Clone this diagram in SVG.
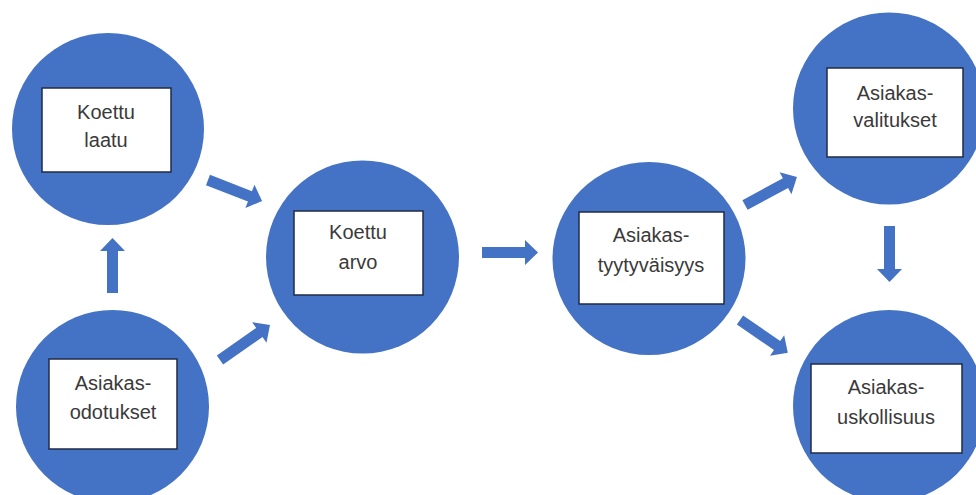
<svg xmlns="http://www.w3.org/2000/svg" width="976" height="495" viewBox="0 0 976 495">
<style>
.c{fill:#4472C4}
.b{fill:#fff;stroke:#1f2b45;stroke-width:1.5}
.t{font-family:"Liberation Sans",Arial,sans-serif;font-size:20px;fill:#3a3a3a;text-anchor:middle}
.a{fill:#4472C4}
</style>
<rect width="976" height="495" fill="#fff"/>
<g id="connectors">
<path class="a" transform="translate(208,180) rotate(21.25)" d="M0,-5.5 H45 V-12.5 L58,0 L45,12.5 V5.5 H0 Z"/>
<path class="a" transform="translate(220,360) rotate(-35)" d="M0,-5.5 H48 V-12.5 L61,0 L48,12.5 V5.5 H0 Z"/>
<path class="a" transform="translate(112.5,293) rotate(-90)" d="M0,-5.5 H42 V-12.5 L55,0 L42,12.5 V5.5 H0 Z"/>
<path class="a" transform="translate(482,252.5)" d="M0,-5.5 H43 V-12.5 L56,0 L43,12.5 V5.5 H0 Z"/>
<path class="a" transform="translate(745,205) rotate(-28.3)" d="M0,-5.5 H46 V-12.5 L59,0 L46,12.5 V5.5 H0 Z"/>
<path class="a" transform="translate(740,320) rotate(34.5)" d="M0,-5.5 H45 V-12.5 L58,0 L45,12.5 V5.5 H0 Z"/>
<path class="a" transform="translate(889.5,226) rotate(90)" d="M0,-5.5 H43 V-12.5 L56,0 L43,12.5 V5.5 H0 Z"/>
</g>
<g id="koettu-laatu">
<circle class="c" cx="108" cy="129" r="96"/>
<rect class="b" x="42" y="88" width="129" height="84"/>
<text class="t" x="106" y="119">Koettu</text>
<text class="t" x="106" y="147">laatu</text>
</g>
<g id="asiakasodotukset">
<circle class="c" cx="112.5" cy="406.5" r="96.5"/>
<rect class="b" x="49" y="359" width="128" height="90"/>
<text class="t" x="113" y="390">Asiakas-</text>
<text class="t" x="113" y="419">odotukset</text>
</g>
<g id="koettu-arvo">
<circle class="c" cx="362.5" cy="257" r="96.5"/>
<rect class="b" x="294" y="211" width="129" height="84"/>
<text class="t" x="358" y="239">Koettu</text>
<text class="t" x="358" y="269">arvo</text>
</g>
<g id="asiakastyytyvaisyys">
<circle class="c" cx="649" cy="258.5" r="96.5"/>
<rect class="b" x="579" y="212" width="145" height="92"/>
<text class="t" x="651" y="242">Asiakas-</text>
<text class="t" x="651" y="272">tyytyväisyys</text>
</g>
<g id="asiakasvalitukset">
<circle class="c" cx="889" cy="108.5" r="96"/>
<rect class="b" x="827" y="68" width="136" height="89"/>
<text class="t" x="895" y="100">Asiakas-</text>
<text class="t" x="895" y="127">valitukset</text>
</g>
<g id="asiakasuskollisuus">
<circle class="c" cx="889" cy="406" r="96"/>
<rect class="b" x="811" y="364" width="151" height="89"/>
<text class="t" x="886" y="394">Asiakas-</text>
<text class="t" x="886" y="424">uskollisuus</text>
</g>
</svg>
